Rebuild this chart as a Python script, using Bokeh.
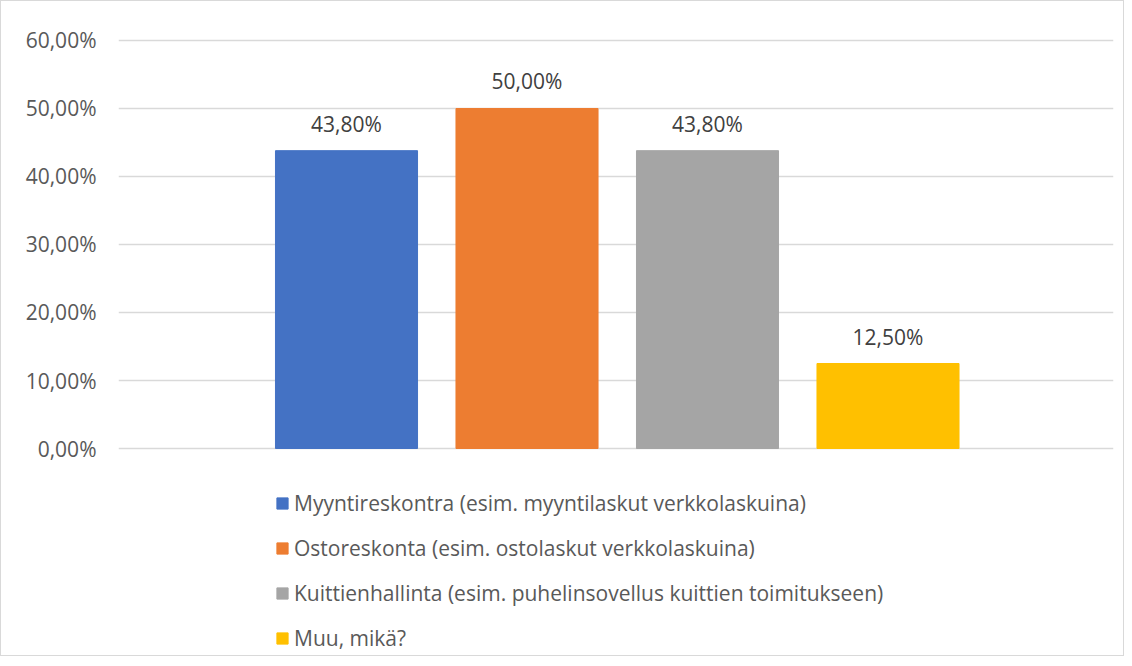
from bokeh.plotting import figure
from bokeh.models import ColumnDataSource, FixedTicker, Legend, LegendItem, Range1d
from bokeh.core.properties import value
from bokeh.embed import file_html
from bokeh.resources import INLINE

categories = [
    "Myyntireskontra (esim. myyntilaskut verkkolaskuina)",
    "Ostoreskonta (esim. ostolaskut verkkolaskuina)",
    "Kuittienhallinta (esim. puhelinsovellus kuittien toimitukseen)",
    "Muu, mikä?",
]
values = [43.8, 50.0, 43.8, 12.5]
value_labels = ["43,80%", "50,00%", "43,80%", "12,50%"]
colors = ["#4472C4", "#ED7D31", "#A5A5A5", "#FFC000"]
tick_values = [0, 10, 20, 30, 40, 50, 60]
tick_labels = ["0,00%", "10,00%", "20,00%", "30,00%", "40,00%", "50,00%", "60,00%"]

FONT = "Open Sans"

src = ColumnDataSource(dict(
    x=list(range(len(categories))),
    top=values,
    label=value_labels,
    color=colors,
    cat=categories,
))

p = figure(
    width=1124, height=656,
    output_backend="svg", toolbar_location=None,
    x_axis_location=None,
    x_range=Range1d(-1.2632, 4.2493),
    y_range=Range1d(-30.735, 63.235),
    min_border_left=117, min_border_right=12,
    min_border_top=17, min_border_bottom=0,
)
p.styles = {"border": "1px solid #d9d9d9"}
p.outline_line_color = None
p.background_fill_color = "white"
p.border_fill_color = "white"

r = p.vbar(x="x", top="top", bottom=0, width=0.787, color="color", source=src)

p.text(x="x", y="top", text="label", source=src,
       text_align="center", text_baseline="alphabetic", y_offset=-27,
       text_font=value(FONT), text_font_size="21px", text_color="#404040")

ax = p.yaxis[0]
ax.ticker = FixedTicker(ticks=tick_values)
ax.major_label_overrides = dict(zip(tick_values, tick_labels))
ax.axis_line_color = None
ax.major_tick_line_color = None
ax.minor_tick_line_color = None
ax.major_label_standoff = 16
ax.major_label_text_font = FONT
ax.major_label_text_font_size = "21px"
ax.major_label_text_color = "#595959"

p.xgrid.visible = False
p.ygrid.ticker = FixedTicker(ticks=tick_values)
p.ygrid.grid_line_color = "#d9d9d9"
p.ygrid.grid_line_width = 1.5

items = [LegendItem(label=c, renderers=[r], index=i) for i, c in enumerate(categories)]
legend = Legend(
    items=items, location=(157, 4), orientation="vertical",
    glyph_width=14, glyph_height=14, label_standoff=5,
    label_text_font=FONT, label_text_font_size="21px", label_text_color="#595959",
    label_height=30, spacing=15, padding=0, margin=0,
    border_line_color=None, background_fill_alpha=0,
)
p.add_layout(legend, "center")

open("out.html", "w").write(file_html(p, INLINE))
